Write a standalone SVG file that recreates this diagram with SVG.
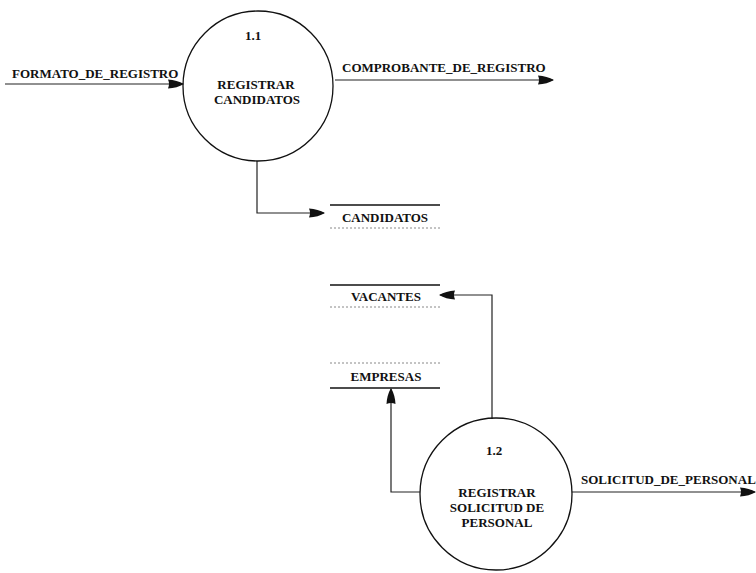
<svg xmlns="http://www.w3.org/2000/svg" width="756" height="573" viewBox="0 0 756 573">
<style>
text{font-family:"Liberation Serif","Times New Roman",serif;font-weight:bold;font-size:13px;fill:#111}
.c{text-anchor:middle}
.proc{fill:none;stroke:#111;stroke-width:1.3}
.flow{fill:none;stroke:#222;stroke-width:1.2}
.solid{stroke:#111;stroke-width:1.5}
.faint{stroke:#888;stroke-width:1;stroke-dasharray:2 2}
</style>
<defs>
<marker id="ah" viewBox="0 0 16 12" refX="15" refY="6" markerWidth="16" markerHeight="12" markerUnits="userSpaceOnUse" orient="auto">
<path d="M0,1.5 Q9,2 16,6 Q9,10 0,10.5 Q2,6 0,1.5 Z" fill="#111"/>
</marker>
</defs>
<rect width="756" height="573" fill="#fff"/>
<g id="connectors">
<path class="flow" d="M5,84 H183" marker-end="url(#ah)"/>
<path class="flow" d="M335,80 H553" marker-end="url(#ah)"/>
<path class="flow" d="M257,161 V213 H324" marker-end="url(#ah)"/>
<path class="flow" d="M492,419 V295 H440" marker-end="url(#ah)"/>
<path class="flow" d="M420,492 H391 V389" marker-end="url(#ah)"/>
<path class="flow" d="M572,492 H755" marker-end="url(#ah)"/>
<text x="12" y="78">FORMATO_DE_REGISTRO</text>
<text x="342" y="72">COMPROBANTE_DE_REGISTRO</text>
<text x="581" y="484">SOLICITUD_DE_PERSONAL</text>
</g>
<g id="p1_1">
<circle class="proc" cx="258" cy="86" r="75"/>
<text class="c" x="253" y="40">1.1</text>
<text class="c" x="256" y="89">REGISTRAR</text>
<text class="c" x="257" y="104">CANDIDATOS</text>
</g>
<g id="p1_2">
<circle class="proc" cx="496" cy="494" r="76"/>
<text class="c" x="494" y="455">1.2</text>
<text class="c" x="497" y="497">REGISTRAR</text>
<text class="c" x="497" y="512">SOLICITUD DE</text>
<text class="c" x="497" y="527">PERSONAL</text>
</g>
<g id="s_candidatos">
<line class="solid" x1="330" y1="205" x2="440" y2="205"/>
<line class="faint" x1="330" y1="228" x2="440" y2="228"/>
<text class="c" x="385" y="222">CANDIDATOS</text>
</g>
<g id="s_vacantes">
<line class="solid" x1="330" y1="285" x2="440" y2="285"/>
<line class="faint" x1="330" y1="307" x2="440" y2="307"/>
<text class="c" x="386" y="301">VACANTES</text>
</g>
<g id="s_empresas">
<line class="faint" x1="330" y1="363" x2="440" y2="363"/>
<line class="solid" x1="330" y1="388" x2="440" y2="388"/>
<text class="c" x="386" y="381">EMPRESAS</text>
</g>
</svg>
